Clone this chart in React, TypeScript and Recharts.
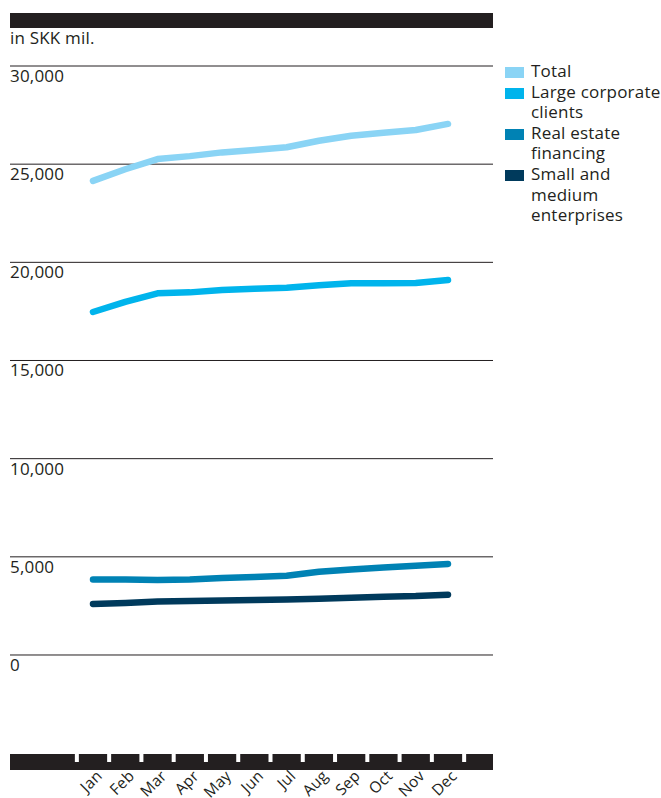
import { LineChart, Line, XAxis, YAxis, CartesianGrid } from "recharts";

// ---------------------------------------------------------------------------
// Data
// ---------------------------------------------------------------------------

const MONTHS = ["Jan", "Feb", "Mar", "Apr", "May", "Jun", "Jul", "Aug", "Sep", "Oct", "Nov", "Dec"];

const TOTAL = [24150, 24740, 25260, 25410, 25600, 25720, 25860, 26190, 26450, 26600, 26740, 27050];
const LARGE_CORPORATE = [17470, 17990, 18420, 18470, 18590, 18650, 18710, 18830, 18930, 18930, 18950, 19100];
const REAL_ESTATE = [3840, 3840, 3820, 3850, 3920, 3970, 4040, 4240, 4360, 4460, 4550, 4640];
const SME = [2600, 2650, 2730, 2750, 2780, 2800, 2830, 2870, 2920, 2970, 3000, 3070];

const Y_TICKS = [0, 5000, 10000, 15000, 20000, 25000, 30000];

const SERIES = [
  { key: "total", name: "Total", color: "#8ad4f5" },
  { key: "large", name: "Large corporate clients", color: "#00b4ec" },
  { key: "realEstate", name: "Real estate financing", color: "#0082b4" },
  { key: "sme", name: "Small and medium enterprises", color: "#003a5c" },
];

const data = MONTHS.map((m, i) => ({
  month: m,
  total: TOTAL[i],
  large: LARGE_CORPORATE[i],
  realEstate: REAL_ESTATE[i],
  sme: SME[i],
}));

// ---------------------------------------------------------------------------
// Layout
// ---------------------------------------------------------------------------

const W = 661;
const H = 798;
const PLOT_LEFT = 10;
const PLOT_RIGHT = 493;
const PLOT_TOP = 66;
const PLOT_BOTTOM = 762;
const PAD_LEFT = 83;
const PAD_RIGHT = 45;
const STEP = (PLOT_RIGHT - PLOT_LEFT - PAD_LEFT - PAD_RIGHT) / (MONTHS.length - 1);
const INK = "#231f20";
const FONT = "'Open Sans', sans-serif";
const TEXT_STYLE = { fontFamily: FONT, fontSize: 17, letterSpacing: 0.2 };

function MonthTick(props: any) {
  const { x, payload, index } = props;
  const notchY = PLOT_BOTTOM - 8;
  return (
    <g>
      <rect x={x - STEP / 2 - 2} y={notchY} width={4} height={8} fill="#fff" />
      {index === MONTHS.length - 1 && (
        <rect x={x + STEP / 2 - 2} y={notchY} width={4} height={8} fill="#fff" />
      )}
      <text
        transform={`translate(${x + 10},${PLOT_BOTTOM + 15}) rotate(-45)`}
        textAnchor="end"
        fontFamily={FONT}
        fontSize={15.5}
        fill={INK}
      >
        {payload.value}
      </text>
    </g>
  );
}

function ValueTick(props: any) {
  const { y, payload } = props;
  return (
    <text x={PLOT_LEFT} y={y + 16} style={TEXT_STYLE} fill={INK}>
      {Number(payload.value).toLocaleString("en-US")}
    </text>
  );
}

export default function App() {
  return (
    <div style={{ position: "absolute", left: 0, top: 0, width: W, height: H, background: "#fff", ...TEXT_STYLE }}>
      {/* title bar + unit */}
      <div style={{ position: "absolute", left: PLOT_LEFT, top: 13, width: PLOT_RIGHT - PLOT_LEFT, height: 15, background: INK }} />
      <div style={{ position: "absolute", left: PLOT_LEFT, top: 28, color: INK, lineHeight: "20px" }}>
        in SKK mil.
      </div>

      <LineChart
        width={W}
        height={H}
        data={data}
        margin={{ top: PLOT_TOP, right: W - PLOT_RIGHT, bottom: H - PLOT_BOTTOM - 30, left: PLOT_LEFT }}
      >
        <CartesianGrid vertical={false} stroke={INK} strokeWidth={1} />
        <XAxis
          dataKey="month"
          height={30}
          interval={0}
          padding={{ left: PAD_LEFT, right: PAD_RIGHT }}
          axisLine={{ stroke: INK, strokeWidth: 16 }}
          tickLine={false}
          tick={<MonthTick />}
        />
        <YAxis
          width={60}
          mirror
          domain={[-5450, 30000]}
          ticks={Y_TICKS}
          interval={0}
          axisLine={false}
          tickLine={false}
          tick={<ValueTick />}
        />
        {SERIES.map((s) => (
          <Line
            key={s.key}
            dataKey={s.key}
            name={s.name}
            stroke={s.color}
            strokeWidth={6.5}
            strokeLinecap="round"
            strokeLinejoin="round"
            dot={false}
            activeDot={false}
            isAnimationActive={false}
          />
        ))}
      </LineChart>

      {/* Legend */}
      <div style={{ position: "absolute", left: 505, top: 61, width: 156 }}>
        {SERIES.map((s) => (
          <div key={s.key} style={{ display: "flex", alignItems: "flex-start" }}>
            <span style={{ width: 19, height: 11, background: s.color, marginTop: 6, flexShrink: 0 }} />
            <span style={{ marginLeft: 7, lineHeight: "20.6px", color: INK, width: 130 }}>
              {s.name}
            </span>
          </div>
        ))}
      </div>
    </div>
  );
}
